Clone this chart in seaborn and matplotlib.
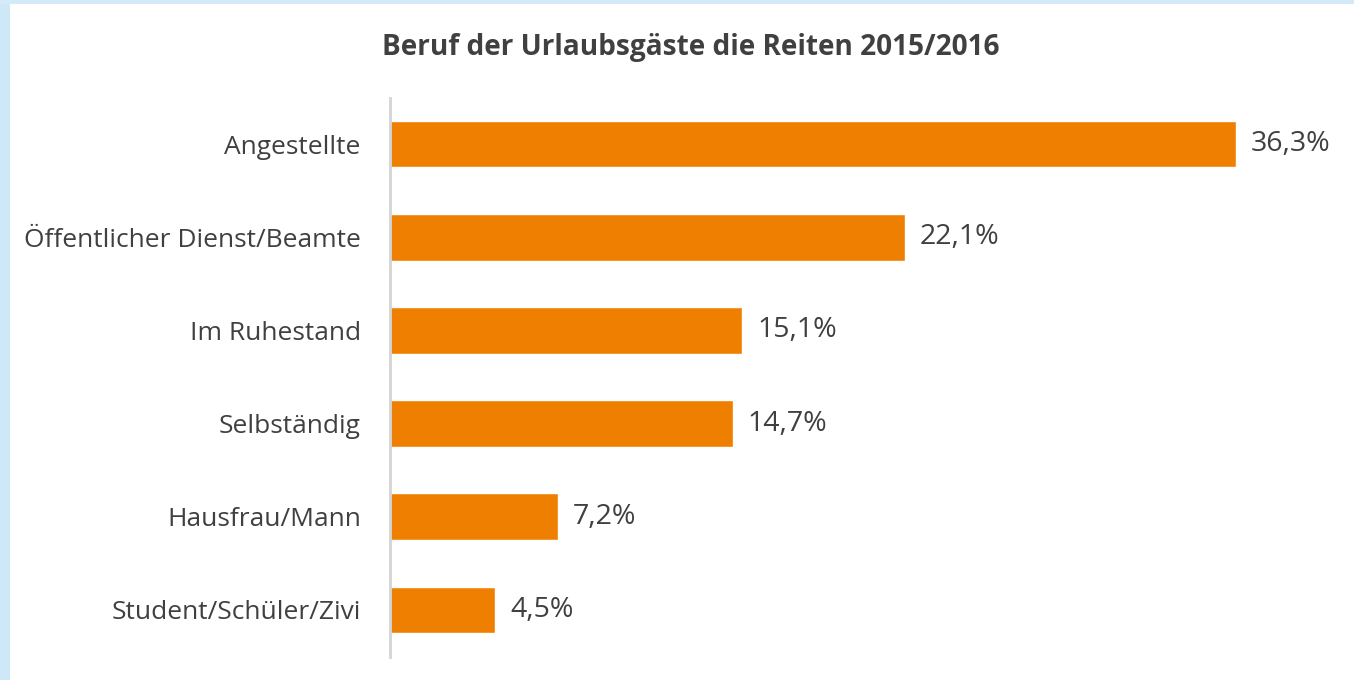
import matplotlib
matplotlib.use("Agg")
import matplotlib.pyplot as plt
import seaborn as sns
import pandas as pd
from matplotlib.patches import Rectangle

berufe = [
    "Angestellte",
    "Öffentlicher Dienst/Beamte",
    "Im Ruhestand",
    "Selbständig",
    "Hausfrau/Mann",
    "Student/Schüler/Zivi",
]
anteile = [36.3, 22.1, 15.1, 14.7, 7.2, 4.5]

df = pd.DataFrame({"Beruf": berufe, "Anteil": anteile})

sns.set_theme(style="white")
plt.rcParams["font.family"] = ["Open Sans", "DejaVu Sans"]

W, H = 1354, 680
fig = plt.figure(figsize=(W / 100, H / 100), dpi=100)
fig.patch.set_facecolor("white")

# hellblauer Rand links und oben
fig.patches.append(Rectangle((0, 0), 10 / W, 1, transform=fig.transFigure,
                             facecolor="#cfe8f7", edgecolor="none", zorder=0))
fig.patches.append(Rectangle((0, 1 - 4 / H), 1, 4 / H, transform=fig.transFigure,
                             facecolor="#d3ebf8", edgecolor="none", zorder=0))

left = 390 / W
bottom = 1 - 656.5 / H
ax = fig.add_axes([left, bottom, 932 / W, 559 / H])

sns.barplot(data=df, x="Anteil", y="Beruf", color="#ef7f00", width=0.5,
            saturation=1, ax=ax)

ax.set_xlim(0, 40)
ax.set_xlabel("")
ax.set_ylabel("")
ax.set_xticks([])
for s in ["top", "right", "bottom"]:
    ax.spines[s].set_visible(False)
ax.spines["left"].set_color("#d4d4d4")
ax.spines["left"].set_linewidth(2)
ax.tick_params(axis="y", length=0, pad=21, labelsize=19, labelcolor="#404040")

for i, v in enumerate(anteile):
    ax.text(v + 0.65, i, f"{v:.1f}".replace(".", ",") + "%", va="center",
            ha="left", fontsize=20.5, color="#404040")

fig.text(691 / W, 1 - 47 / H, "Beruf der Urlaubsgäste die Reiten 2015/2016",
         ha="center", va="center", fontsize=20.2, fontweight="bold", color="#404040")

fig.savefig("out.png", dpi=100)
